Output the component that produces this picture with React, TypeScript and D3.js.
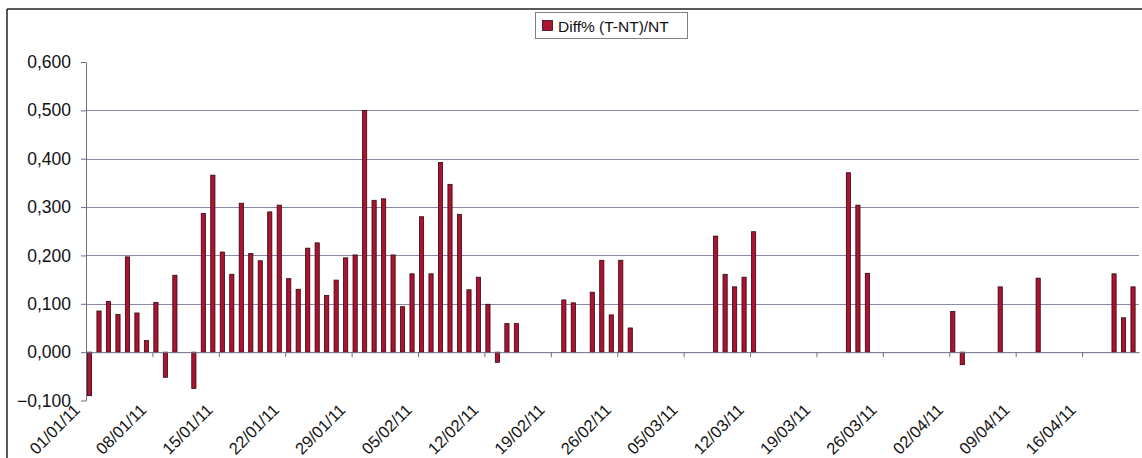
import React, { useEffect, useRef } from 'react';
import * as d3 from 'd3';

const WIDTH = 1142;
const HEIGHT = 458;

const SERIES_NAME = 'Diff% (T-NT)/NT';

// one bar per day that has data
const DATES = [
  '2011-01-01', '2011-01-02', '2011-01-03', '2011-01-04', '2011-01-05', '2011-01-06',
  '2011-01-07', '2011-01-08', '2011-01-09', '2011-01-10', '2011-01-12', '2011-01-13',
  '2011-01-14', '2011-01-15', '2011-01-16', '2011-01-17', '2011-01-18', '2011-01-19',
  '2011-01-20', '2011-01-21', '2011-01-22', '2011-01-23', '2011-01-24', '2011-01-25',
  '2011-01-26', '2011-01-27', '2011-01-28', '2011-01-29', '2011-01-30', '2011-01-31',
  '2011-02-01', '2011-02-02', '2011-02-03', '2011-02-04', '2011-02-05', '2011-02-06',
  '2011-02-07', '2011-02-08', '2011-02-09', '2011-02-10', '2011-02-11', '2011-02-12',
  '2011-02-13', '2011-02-14', '2011-02-15', '2011-02-20', '2011-02-21', '2011-02-23',
  '2011-02-24', '2011-02-25', '2011-02-26', '2011-02-27', '2011-03-08', '2011-03-09',
  '2011-03-10', '2011-03-11', '2011-03-12', '2011-03-22', '2011-03-23', '2011-03-24',
  '2011-04-02', '2011-04-03', '2011-04-07', '2011-04-11', '2011-04-19', '2011-04-20',
  '2011-04-21'
];

const VALUES = [
  -0.090, 0.085, 0.105, 0.078, 0.197, 0.081,
  0.024, 0.103, -0.052, 0.159, -0.075, 0.287,
  0.366, 0.207, 0.161, 0.308, 0.204, 0.189,
  0.290, 0.304, 0.152, 0.130, 0.215, 0.226,
  0.117, 0.149, 0.195, 0.201, 0.500, 0.314,
  0.317, 0.201, 0.094, 0.162, 0.280, 0.162,
  0.392, 0.347, 0.285, 0.129, 0.155, 0.099,
  -0.021, 0.059, 0.059, 0.108, 0.102, 0.124,
  0.190, 0.077, 0.190, 0.050, 0.240, 0.161,
  0.135, 0.155, 0.249, 0.371, 0.304, 0.163,
  0.084, -0.026, 0.135, 0.153, 0.162, 0.071,
  0.135
];

const X_START = '2011-01-01';
const X_END = '2011-04-22';
const Y_TICKS = [-0.1, 0, 0.1, 0.2, 0.3, 0.4, 0.5, 0.6];
const GRID_VALUES = [0.1, 0.2, 0.3, 0.4, 0.5];

const FONT = 'Arial, "Liberation Sans", sans-serif';
const BAR_FILL = '#ad1230';
const BAR_STROKE = '#2e0810';
const GRID = '#8a8aa6';

const App = () => {
  const svgRef = useRef<SVGSVGElement>(null);

  useEffect(() => {
    if (!svgRef.current) return;
    const svg = d3.select(svgRef.current);
    svg.selectAll('*').remove();

    const left = 86;
    const right = 1139;

    const x = d3.scaleUtc()
      .domain([new Date(X_START), new Date(X_END)])
      .range([left, right]);

    const y = d3.scaleLinear()
      .domain([-0.1, 0.6])
      .range([400.5, 62]);

    const locale = d3.formatLocale({ decimal: ',', thousands: '.', grouping: [3], currency: ['', '€'] });
    const fmt = locale.format('.3f');

    // frame
    svg.append('line')
      .attr('x1', 7).attr('x2', WIDTH).attr('y1', 9).attr('y2', 9)
      .attr('stroke', '#222').attr('stroke-width', 1.5);
    svg.append('line')
      .attr('x1', 7).attr('x2', 7).attr('y1', 9).attr('y2', HEIGHT)
      .attr('stroke', '#222').attr('stroke-width', 1.5);

    // gridlines
    svg.append('g')
      .selectAll('line')
      .data(GRID_VALUES)
      .join('line')
      .attr('x1', left).attr('x2', right)
      .attr('y1', d => Math.round(y(d)) + 0.5).attr('y2', d => Math.round(y(d)) + 0.5)
      .attr('stroke', GRID).attr('stroke-width', 1);

    // y axis
    const yAxis = svg.append('g')
      .attr('transform', `translate(${left},0)`)
      .call(d3.axisLeft(y).tickValues(Y_TICKS).tickSize(5).tickSizeOuter(0).tickPadding(10).tickFormat(d => fmt(d as number)));
    yAxis.selectAll('path, line').attr('stroke', '#6e6e86');
    yAxis.selectAll('text')
      .attr('fill', '#111')
      .style('font-family', FONT)
      .style('font-size', '17.5px');

    // bars
    const dayW = x(new Date('2011-01-02')) - x(new Date('2011-01-01'));
    const barW = 4.2;
    const bars = DATES.map((d, i) => ({ date: new Date(d), value: VALUES[i] }));
    svg.append('g')
      .selectAll('rect')
      .data(bars)
      .join('rect')
      .attr('x', d => x(d.date) + dayW * 0.37 - barW / 2)
      .attr('y', d => Math.min(y(d.value), y(0)))
      .attr('width', barW)
      .attr('height', d => Math.abs(y(d.value) - y(0)))
      .attr('fill', BAR_FILL)
      .attr('stroke', BAR_STROKE)
      .attr('stroke-width', 0.8);

    // x axis at zero
    const weekTicks = x.ticks(d3.utcSaturday);
    const xAxis = svg.append('g')
      .attr('transform', `translate(0,${y(0)})`)
      .call(d3.axisBottom(x).tickValues(weekTicks).tickSize(5).tickSizeOuter(0).tickFormat(() => ''));
    xAxis.selectAll('path, line').attr('stroke', '#6e6e86');

    // x labels at the bottom
    const dateFmt = d3.utcFormat('%d/%m/%y');
    svg.append('g')
      .selectAll('text')
      .data(weekTicks)
      .join('text')
      .attr('transform', d => `translate(${x(d) - 5},411) rotate(-45)`)
      .attr('text-anchor', 'end')
      .attr('fill', '#111')
      .style('font-family', FONT)
      .style('font-size', '16.5px')
      .text(d => dateFmt(d));

    // legend
    const legend = svg.append('g');
    legend.append('rect')
      .attr('x', 535.5).attr('y', 12.5).attr('width', 152).attr('height', 26)
      .attr('fill', '#fff').attr('stroke', '#808080').attr('stroke-width', 1);
    legend.append('rect')
      .attr('x', 542.5).attr('y', 20.5).attr('width', 10).attr('height', 10)
      .attr('fill', BAR_FILL).attr('stroke', BAR_STROKE).attr('stroke-width', 0.8);
    legend.append('text')
      .attr('x', 558).attr('y', 31.5)
      .attr('fill', '#111')
      .style('font-family', FONT)
      .style('font-size', '15.5px')
      .text(SERIES_NAME);
  }, []);

  return (
    <svg
      ref={svgRef}
      width={WIDTH}
      height={HEIGHT}
      style={{ position: 'absolute', left: 0, top: 0, background: '#fff' }}
    />
  );
};

export default App;
